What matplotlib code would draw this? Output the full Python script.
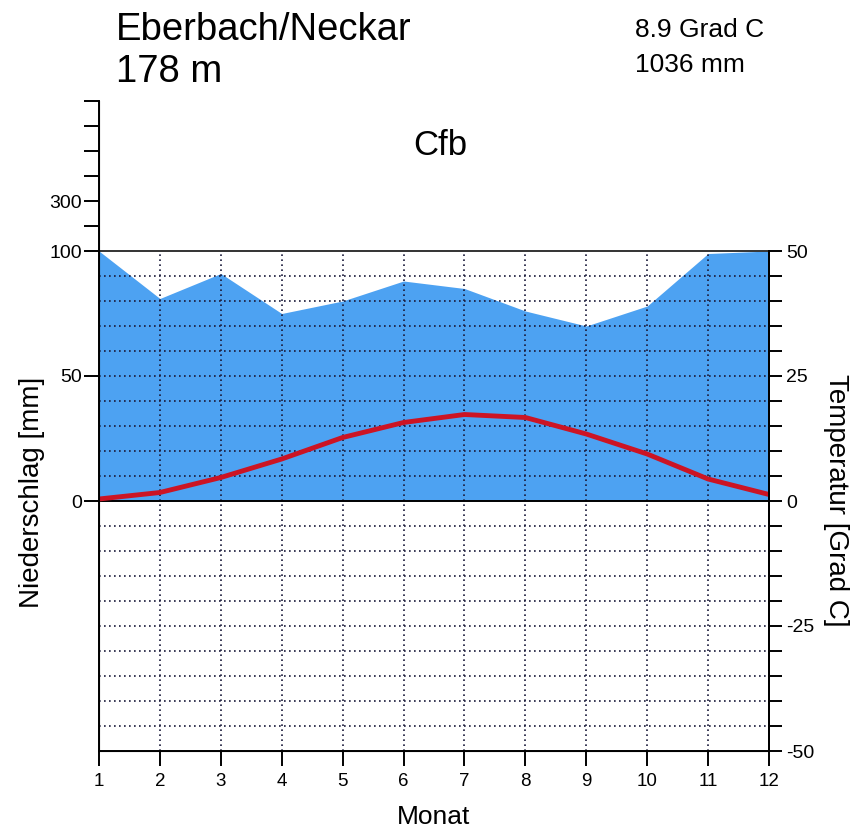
import matplotlib
matplotlib.use("Agg")
import matplotlib.pyplot as plt

plt.rcParams['font.family'] = ['Liberation Sans', 'DejaVu Sans']

# climate data, Eberbach/Neckar
months = [1, 2, 3, 4, 5, 6, 7, 8, 9, 10, 11, 12]
precip = [100, 81, 91, 75, 80, 88, 85, 76, 70, 78, 99, 100]   # mm
temp = [0.4, 1.7, 4.7, 8.4, 12.7, 15.7, 17.3, 16.7, 13.4, 9.4, 4.4, 1.3]  # Grad C

left_ticks = [0, 50, 100, 110, 120, 130, 140, 150, 160]
left_labels = ["0", "50", "100", "", "300", "", "", "", ""]
right_ticks = list(range(-100, 101, 10))
right_labels = {100: "50", 50: "25", 0: "0", -50: "-25", -100: "-50"}

fig = plt.figure(figsize=(8.51, 8.32), dpi=100)
ax = fig.add_axes([99/851, 81/832, 670/851, 650/832])

# precipitation fill (1 unit = 1 mm), temperature plotted at 2 units per degree
ax.fill_between(months, 0, [min(p, 100) for p in precip], color="#4da2f2", lw=0, zorder=1)

for m in months[1:-1]:
    ax.plot([m, m], [-100, 100], color="#1a1a3a", ls=(0, (1, 2)), lw=1.2, zorder=2)
for y in range(-90, 100, 10):
    if y != 0:
        ax.plot([1, 12], [y, y], color="#1a1a3a", ls=(0, (1, 2)), lw=1.2, zorder=2)

ax.plot([1, 12], [0, 0], color="black", lw=1.4, zorder=3)
ax.plot([1, 12], [100, 100], color="#333333", lw=1.4, zorder=3)
ax.plot(months, [t * 2 for t in temp], color="#cc1424", lw=3.5, zorder=4)

ax.set_xlim(1, 12)
ax.set_ylim(-100, 160)
ax.spines['top'].set_visible(False)
ax.spines['right'].set_bounds(-100, 100)
for s in ax.spines.values():
    s.set_linewidth(1.4)

ax.set_xticks(months)
ax.tick_params(axis='x', length=11, width=1.4, labelsize=13.5, pad=5)
ax.set_yticks(left_ticks)
ax.set_yticklabels(left_labels)
ax.tick_params(axis='y', length=11, width=1.4, labelsize=14, pad=1)

ax2 = ax.twinx()
ax2.set_ylim(-100, 160)
ax2.set_yticks(right_ticks)
ax2.set_yticklabels([right_labels.get(t, "") for t in right_ticks])
ax2.tick_params(axis='y', length=9.5, width=1.4, labelsize=14, pad=3)
ax2.spines['top'].set_visible(False)
ax2.spines['right'].set_bounds(-100, 100)
ax2.spines['right'].set_linewidth(1.4)

ax.set_xlabel("Monat", fontsize=19, va="top")
ax.xaxis.set_label_coords(0.5, -0.083)
ax.set_ylabel("Niederschlag [mm]", fontsize=20)
ax.yaxis.set_label_coords(-0.08, 0.398)
ax2.set_ylabel("Temperatur [Grad C]", fontsize=20, rotation=-90)
ax2.yaxis.set_label_coords(1.119, 0.386)

fig.text(116/851, 1 - 40/832, "Eberbach/Neckar", fontsize=27.5)
fig.text(116/851, 1 - 82/832, "178 m", fontsize=27.5)
fig.text(635/851, 1 - 37/832, "8.9 Grad C", fontsize=19)
fig.text(635/851, 1 - 72/832, "1036 mm", fontsize=19)
fig.text(440/851, 1 - 155/832, "Cfb", fontsize=25, ha="center")

fig.savefig("out.png", dpi=100)
